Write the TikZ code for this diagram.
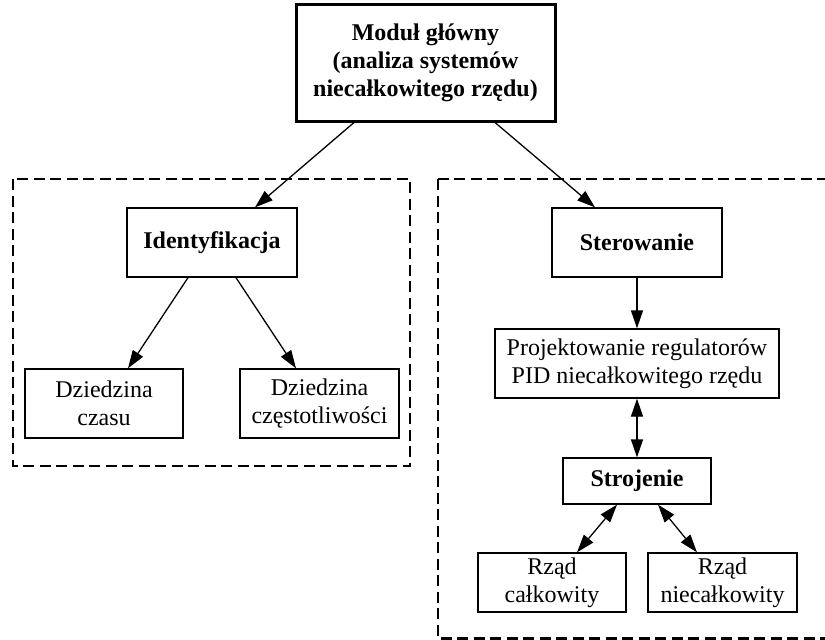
\documentclass[tikz,border=0pt]{standalone}
\usepackage{fontspec}
\setmainfont{Liberation Serif}
\usetikzlibrary{arrows.meta}
\begin{document}
\begin{tikzpicture}[x=1pt,y=-1pt,
  every node/.style={inner sep=0pt, align=center, font=\fontsize{24}{28}\selectfont},
  box/.style={draw, line width=1.3pt, rectangle},
  mainbox/.style={draw, line width=3pt, rectangle},
  group/.style={draw, line width=2.5pt, dash pattern=on 11pt off 5.5pt},
  arr/.style={line width=1.3pt, -{Triangle[length=18pt,width=12pt]}},
  darr/.style={line width=1.3pt, {Triangle[length=18pt,width=12pt]}-{Triangle[length=18pt,width=12pt]}}]
\useasboundingbox (0,0) rectangle (825,640);
\begin{scope}
\clip (0,0) rectangle (825,640);
\draw[group] (13,179) rectangle (410,466);
\draw[group] (438,179) rectangle (850,638.5);
\end{scope}
\node[mainbox, minimum width=259pt, minimum height=117pt] (top) at (425.5,62.5) {\bfseries Moduł główny\\\bfseries (analiza systemów\\\bfseries niecałkowitego rzędu)};
\node[box, minimum width=170pt, minimum height=69pt] (ident) at (212,242.5) {\bfseries Identyfikacja};
\node[box, minimum width=158pt, minimum height=69pt] (czas) at (104,403.5) {Dziedzina\\czasu};
\node[box, minimum width=159pt, minimum height=69pt] (czest) at (319.5,403.5) {Dziedzina\\częstotliwości};
\node[box, minimum width=170pt, minimum height=69pt] (ster) at (637,242.5) {\bfseries Sterowanie};
\node[box, minimum width=284pt, minimum height=69pt] (proj) at (637,363.5) {Projektowanie regulatorów\\PID niecałkowitego rzędu};
\node[box, minimum width=148pt, minimum height=46pt] (stroj) at (637,481) {\bfseries Strojenie};
\node[box, minimum width=148pt, minimum height=59pt] (rc) at (552,582.5) {Rząd\\całkowity};
\node[box, minimum width=149pt, minimum height=59pt] (rn) at (722.5,582.5) {Rząd\\niecałkowity};
\draw[arr] ([xshift=-71.5pt]top.south) -- ([xshift=43pt]ident.north);
\draw[arr] ([xshift=69.5pt]top.south) -- ([xshift=-42pt]ster.north);
\draw[arr] ([xshift=-24pt]ident.south) -- ([xshift=24pt]czas.north);
\draw[arr] ([xshift=24pt]ident.south) -- ([xshift=-23.5pt]czest.north);
\draw[arr] (ster.south) -- (proj.north);
\draw[darr] (proj.south) -- (stroj.north);
\draw[darr] ([xshift=-20pt]stroj.south) -- ([xshift=25pt]rc.north);
\draw[darr] ([xshift=21pt]stroj.south) -- ([xshift=-25.5pt]rn.north);
\end{tikzpicture}
\end{document}
